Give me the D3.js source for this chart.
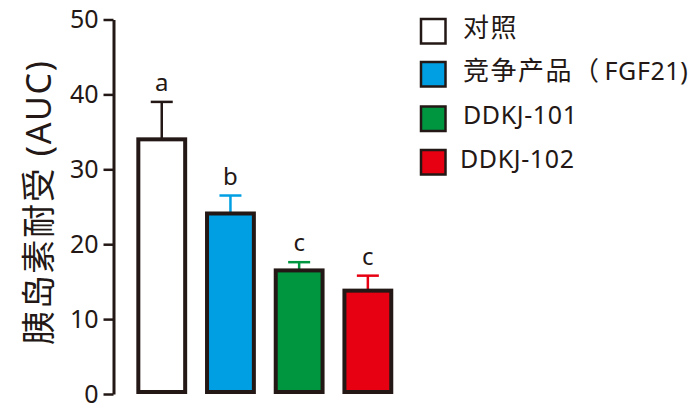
<!DOCTYPE html>
<html>
<head>
<meta charset="utf-8">
<script src="https://cdn.jsdelivr.net/npm/d3@7"></script>
<style>
  html, body { margin: 0; padding: 0; background: #fff; }
  svg { display: block; }
  text { font-family: "Noto Sans", "Noto Sans CJK SC", sans-serif; fill: #231815; }
</style>
</head>
<body>
<svg id="chart" width="692" height="405"></svg>
<script>
// Groups, mean values and upper error (mean + SD) for insulin tolerance AUC
const groups = ["对照", "竞争产品（FGF21)", "DDKJ-101", "DDKJ-102"];
const means = [34.0, 24.1, 16.5, 13.8];
const errTops = [39.0, 26.5, 17.6, 15.8];
const letters = ["a", "b", "c", "c"];
const fills = ["#ffffff", "#009fe3", "#009640", "#e60012"];
const errColors = ["#231815", "#009fe3", "#009640", "#e60012"];
const yTicks = [0, 10, 20, 30, 40, 50];
const yTitle = "胰岛素耐受 (AUC)";

const ink = "#231815";
const svg = d3.select("#chart");

const y = d3.scaleLinear().domain([0, 50]).range([394, 19.5]);
const x = d3.scaleBand().domain(d3.range(groups.length))
  .range([127.4, 402.2]).paddingInner(0.26).paddingOuter(0.13);

// Y axis
const axis = svg.append("g").attr("transform", "translate(113.5,0)")
  .call(d3.axisLeft(y).tickValues(yTicks).tickSize(10).tickPadding(5).tickSizeOuter(0));
axis.select(".domain").attr("stroke", ink).attr("stroke-width", 3);
axis.selectAll(".tick line").attr("stroke", ink).attr("stroke-width", 2.5);
axis.selectAll(".tick text")
  .attr("font-size", 25)
  .attr("font-family", "'Noto Sans', sans-serif")
  .attr("fill", ink);

// Y title
svg.append("text")
  .attr("transform", "translate(51,203) rotate(-90)")
  .attr("text-anchor", "middle")
  .attr("font-size", 34)
  .attr("textLength", 284)
  .attr("lengthAdjust", "spacing")
  .text(yTitle);

// Error bars
const cap = 22;
const eb = svg.append("g");
groups.forEach((g, i) => {
  const cx = x(i) + x.bandwidth() / 2;
  eb.append("line")
    .attr("x1", cx).attr("x2", cx)
    .attr("y1", y(means[i])).attr("y2", y(errTops[i]))
    .attr("stroke", errColors[i]).attr("stroke-width", 2.5);
  eb.append("line")
    .attr("x1", cx - cap / 2).attr("x2", cx + cap / 2)
    .attr("y1", y(errTops[i])).attr("y2", y(errTops[i]))
    .attr("stroke", errColors[i]).attr("stroke-width", 2.5);
});

// Bars
const sw = 4;
svg.append("g").selectAll("rect").data(means).join("rect")
  .attr("x", (d, i) => x(i) + sw / 2)
  .attr("width", x.bandwidth() - sw)
  .attr("y", d => y(d))
  .attr("height", d => y(0) - 2 - y(d))
  .attr("fill", (d, i) => fills[i])
  .attr("stroke", ink)
  .attr("stroke-width", sw);

// Significance letters
svg.append("g").selectAll("text").data(letters).join("text")
  .attr("x", (d, i) => x(i) + x.bandwidth() / 2)
  .attr("y", (d, i) => y(errTops[i]) - 11)
  .attr("text-anchor", "middle")
  .attr("font-size", 24)
  .text(d => d);

// Legend: CJK runs set slightly larger and wider than the Latin runs
const legendY = [31, 74, 118.5, 162];
const legendTextX = [463, 463, 463, 460];
const lg = svg.append("g");
groups.forEach((g, i) => {
  lg.append("rect")
    .attr("x", 421).attr("y", legendY[i] - 12)
    .attr("width", 24.5).attr("height", 24.5)
    .attr("fill", fills[i])
    .attr("stroke", ink).attr("stroke-width", 2.5);
  const t = lg.append("text")
    .attr("x", legendTextX[i]).attr("y", legendY[i])
    .attr("dy", "0.36em");
  const m = g.match(/^([^A-Za-z]*)(.*)$/);
  if (m[1]) {
    t.append("tspan")
      .attr("font-size", 26)
      .attr("letter-spacing", 1.5)
      .text(m[1]);
  }
  if (m[2]) {
    t.append("tspan")
      .attr("dx", m[1] ? 4 : 0)
      .attr("font-size", 25)
      .attr("letter-spacing", 0.6)
      .text(m[2]);
  }
});
</script>
</body>
</html>
